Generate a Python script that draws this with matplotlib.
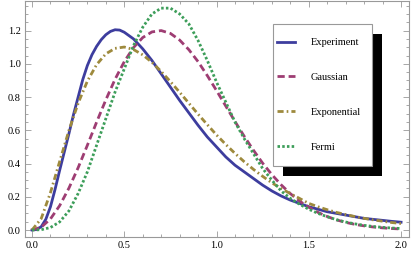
import matplotlib
matplotlib.use("Agg")
import matplotlib.pyplot as plt
from matplotlib.patches import Rectangle
from matplotlib.ticker import MultipleLocator, FormatStrFormatter

# --- Data ---
S = [0.0, 0.05, 0.1, 0.15, 0.2, 0.25, 0.3, 0.35, 0.4, 0.45,
     0.5, 0.55, 0.6, 0.65, 0.7, 0.75, 0.8, 0.85, 0.9, 0.95,
     1.0, 1.05, 1.1, 1.15, 1.2, 1.25, 1.3, 1.35, 1.4, 1.45,
     1.5, 1.55, 1.6, 1.65, 1.7, 1.75, 1.8, 1.85, 1.9, 1.95, 2.0]

# experiment was sampled more densely around the steep rise
S_exp = [0.0, 0.025, 0.05, 0.075, 0.1, 0.125, 0.15, 0.175, 0.2, 0.225,
         0.25, 0.275, 0.3, 0.325, 0.35, 0.375, 0.4, 0.425, 0.45, 0.475,
         0.5, 0.55, 0.6, 0.65, 0.7, 0.75, 0.8, 0.85, 0.9, 0.95,
         1.0, 1.05, 1.1, 1.15, 1.2, 1.25, 1.3, 1.35, 1.4, 1.45,
         1.5, 1.55, 1.6, 1.65, 1.7, 1.75, 1.8, 1.85, 1.9, 1.95, 2.0]

experiment = [0.0, 0.003, 0.02, 0.065, 0.14, 0.245, 0.36, 0.47, 0.58, 0.695,
              0.80, 0.905, 0.99, 1.055, 1.105, 1.145, 1.175, 1.195, 1.205, 1.203,
              1.19, 1.15, 1.09, 1.02, 0.94, 0.86, 0.78, 0.705, 0.63, 0.56,
              0.50, 0.44, 0.39, 0.35, 0.31, 0.27, 0.235, 0.205, 0.18, 0.16,
              0.14, 0.125, 0.11, 0.10, 0.09, 0.08, 0.07, 0.064, 0.058, 0.052, 0.047]

gaussian = [0.0, 0.017, 0.067, 0.147, 0.252, 0.375, 0.510, 0.649, 0.783, 0.907,
            1.013, 1.098, 1.158, 1.192, 1.200, 1.183, 1.143, 1.085, 1.013, 0.929,
            0.839, 0.746, 0.653, 0.564, 0.480, 0.402, 0.333, 0.272, 0.219, 0.174,
            0.137, 0.106, 0.081, 0.061, 0.046, 0.034, 0.025, 0.018, 0.013, 0.009, 0.006]

exponential = [0.0, 0.069, 0.225, 0.413, 0.599, 0.763, 0.896, 0.995, 1.060, 1.093,
               1.101, 1.086, 1.054, 1.009, 0.954, 0.893, 0.829, 0.763, 0.697, 0.634,
               0.572, 0.515, 0.461, 0.411, 0.365, 0.323, 0.284, 0.250, 0.219, 0.190,
               0.160, 0.140, 0.122, 0.106, 0.093, 0.081, 0.070, 0.061, 0.053, 0.045, 0.039]

fermi = [0.0, 0.002, 0.015, 0.049, 0.115, 0.22, 0.35, 0.51, 0.67, 0.83,
         0.97, 1.11, 1.22, 1.30, 1.335, 1.335, 1.30, 1.24, 1.14, 1.02,
         0.89, 0.77, 0.65, 0.55, 0.46, 0.37, 0.30, 0.235, 0.19, 0.155,
         0.125, 0.10, 0.08, 0.062, 0.048, 0.037, 0.028, 0.021, 0.016, 0.012, 0.009]

labels = ["Experiment", "Gaussian", "Exponential", "Fermi"]
colors = ["#3d3d9e", "#9e3d73", "#9e8a3d", "#3d9e5a"]

W, H = 415, 259

plt.rcParams["font.family"] = ["Liberation Serif", "DejaVu Serif"]

fig = plt.figure(figsize=(W / 100, H / 100), dpi=100)
ax = fig.add_axes([25 / W, 22 / H, 384 / W, 236.5 / H])

lw = 2.0
ax.plot(S_exp, experiment, color=colors[0], lw=lw, label=labels[0])
ax.plot(S, gaussian, color=colors[1], lw=lw, dashes=(2.6, 1.4), label=labels[1])
ax.plot(S, exponential, color=colors[2], lw=lw, dashes=(2.2, 1.1, 0.6, 1.1), label=labels[2])
ax.plot(S, fermi, color=colors[3], lw=lw, dashes=(0.9, 0.8), label=labels[3])

ax.set_xlim(-0.038, 2.043)
ax.set_ylim(-0.042, 1.381)

ax.xaxis.set_major_locator(MultipleLocator(0.5))
ax.xaxis.set_minor_locator(MultipleLocator(0.1))
ax.yaxis.set_major_locator(MultipleLocator(0.2))
ax.yaxis.set_minor_locator(MultipleLocator(0.05))
ax.xaxis.set_major_formatter(FormatStrFormatter("%.1f"))
ax.yaxis.set_major_formatter(FormatStrFormatter("%.1f"))

ax.tick_params(which="both", direction="in", top=True, right=True,
               colors="#999999", labelcolor="black", labelsize=7.5, width=0.6)
ax.tick_params(which="major", length=4, pad=3)
ax.tick_params(which="minor", length=2)
for sp in ax.spines.values():
    sp.set_color("#999999")
    sp.set_linewidth(0.8)

# Legend box with a black drop shadow
shadow = Rectangle((282.7 / W, 1 - 176 / H), 99 / W, 142 / H,
                   transform=fig.transFigure, facecolor="black",
                   edgecolor="none", zorder=6)
box = Rectangle((272.7 / W, 1 - 166 / H), 99 / W, 142 / H,
                transform=fig.transFigure, facecolor="white",
                edgecolor="#999999", lw=0.8, zorder=7)
ax.add_patch(shadow)
ax.add_patch(box)

leg = ax.legend(loc="upper left", bbox_to_anchor=(277 / W, 1 - 38 / H),
                bbox_transform=fig.transFigure, frameon=False,
                fontsize=7.5, borderpad=0, borderaxespad=0,
                handlelength=1.75, handletextpad=1.5, labelspacing=2.45)
leg.set_zorder(8)

fig.savefig("out.png", dpi=100)
